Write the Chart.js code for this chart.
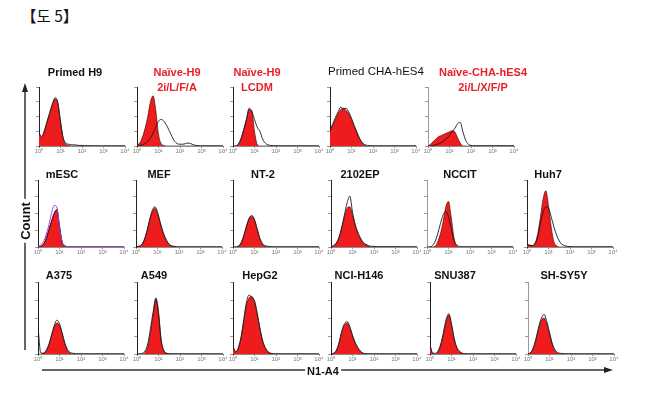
<!DOCTYPE html>
<html><head><meta charset="utf-8">
<script src="https://cdn.jsdelivr.net/npm/chart.js@4"></script>
<style>
html,body{margin:0;padding:0;background:#fff;}
#wrap{position:relative;width:645px;height:396px;overflow:hidden;background:#fff;}
canvas{position:absolute;}
.t{position:absolute;transform:translate(-50%,-50%);white-space:nowrap;font-family:"Liberation Sans",Arial,sans-serif;font-weight:bold;font-size:11px;color:#111;line-height:1;}
.r{color:#e8202a;}
</style></head><body><div id="wrap"></div>
<script>
// log10 fluorescence bins (decades)
const bins = [0,0.125,0.25,0.375,0.5,0.625,0.75,0.875,1,1.125,1.25,1.375,1.5,1.625,1.75,1.875,2,2.125,2.25,2.375,2.5,2.625,2.75,2.875,3,3.125,3.25,3.375,3.5,3.625,3.75,3.875,4];
const tickLabels = ['10\u2070','10\u00b9','10\u00b2','10\u00b3','10\u2074'];

// counts (% of panel height), red = filled histogram, black = outline histogram
const primedH9Red     = [20,15,25,40,55,70,80,72,40,12,3,1,0,0,0,0,0,0,0,0,0,0,0,0,0,0,0,0,0,0,0,0,0];
const primedH9Black   = [22,16,26,42,57,72,82,74,42,14,5,3,2,2,1.5,1,1,0.5,0.5,0.5,0.3,0.3,0.3,0.3,0.3,0.3,0.3,0.3,0.3,0.3,0.3,0.3,0.3];
const naive2iRed      = [2,5,15,30,50,75,85,60,20,4,1,0,0,0,0,0,0,0,0,0,0,0,0,0,0,0,0,0,0,0,0,0,0];
const naive2iBlack    = [0,1,2,4,8,14,22,32,42,45,42,35,26,16,8,4,3,3,4,5,4,2,1,0.5,0.3,0.3,0.3,0.3,0.3,0.3,0.3,0.3,0.3];
const naiveLcdmRed    = [0,0,3,12,28,45,62,60,25,3,0,0,0,0,0,0,0,0,0,0,0,0,0,0,0,0,0,0,0,0,0,0,0];
const naiveLcdmBlack  = [0,0,4,13,28,45,64,58,45,32,25,12,5,2,1,0.5,0.5,0.3,0.3,0.3,0.3,0.3,0.3,0.3,0.3,0.3,0.3,0.3,0.3,0.3,0.3,0.3,0.3];
const primedChaRed    = [25,35,45,55,62,64,60,55,45,33,22,12,5,1,0,0,0,0,0,0,0,0,0,0,0,0,0,0,0,0,0,0,0];
const primedChaBlack  = [27,37,48,58,66,63,64,57,47,35,24,13,6,2,1,0.5,0.3,0.3,0.3,0.3,0.3,0.3,0.3,0.3,0.3,0.3,0.3,0.3,0.3,0.3,0.3,0.3,0.3];
const naiveChaRed     = [0,3,8,12,16,18,20,22,24,26,24,14,5,0,0,0,0,0,0,0,0,0,0,0,0,0,0,0,0,0,0,0,0];
const naiveChaBlack   = [0,0,1,2,4,6,9,13,18,24,30,38,40,24,10,3,1,0.5,0.5,0.5,0.5,0.5,0.5,0.5,0.5,0.5,0.5,0.5,0.5,0.5,0.5,0.5,0.5];
const mescRed         = [0,1,4,12,25,38,50,55,30,6,1,0,0,0,0,0,0,0,0,0,0,0,0,0,0,0,0,0,0,0,0,0,0];
const mescBlack       = [1,1,4,12,25,38,50,56,32,7,2,0.5,0.3,0.3,0.3,0.3,0.3,0.3,0.3,0.3,0.3,0.3,0.3,0.3,0.3,0.3,0.3,0.3,0.3,0.3,0.3,0.3,0.3];
const mescPurple      = [0,3,8,18,32,50,62,60,28,8,2,0,0,0,0,0,0,0,0,0,0,0,0,0,0,0,0,0,0,0,0,0,0];
const mefRed          = [0,1,3,10,22,38,52,58,50,36,22,12,5,2,1,0,0,0,0,0,0,0,0,0,0,0,0,0,0,0,0,0,0];
const mefBlack        = [0,1,3,10,23,40,54,60,52,37,23,13,6,2,1,0.5,0.3,0.3,0.3,0.3,0.3,0.3,0.3,0.3,0.3,0.3,0.3,0.3,0.3,0.3,0.3,0.3,0.3];
const nt2Red          = [0,0,1,6,16,30,42,46,40,26,12,4,1,0,0,0,0,0,0,0,0,0,0,0,0,0,0,0,0,0,0,0,0];
const nt2Black        = [0,0,1,6,17,31,43,47,41,27,13,5,2,1,0.5,0.3,0.3,0.3,0.3,0.3,0.3,0.3,0.3,0.3,0.3,0.3,0.3,0.3,0.3,0.3,0.3,0.3,0.3];
const ep2102Red       = [0,2,6,14,28,45,58,60,48,32,20,12,6,3,1,0,0,0,0,0,0,0,0,0,0,0,0,0,0,0,0,0,0];
const ep2102Black     = [0,2,6,15,30,48,66,76,52,34,22,13,7,4,2,1,1,0.5,0.5,0.5,0.5,0.5,0.5,0.5,0.5,0.5,0.3,0.3,0.3,0.3,0.3,0.3,0.3];
const ncciteRed       = [0,0,0,1,8,20,38,60,68,45,15,2,0,0,0,0,0,0,0,0,0,0,0,0,0,0,0,0,0,0,0,0,0];
const ncciteBlack     = [0,0,2,8,20,35,48,53,45,28,10,3,1,0.3,0.3,0.3,0.3,0.3,0.3,0.3,0.3,0.3,0.3,0.3,0.3,0.3,0.3,0.3,0.3,0.3,0.3,0.3,0.3];
const huh7Red         = [4,3,2,6,20,45,72,84,62,30,8,2,0,0,0,0,0,0,0,0,0,0,0,0,0,0,0,0,0,0,0,0,0];
const huh7Black       = [3,2,2,5,15,35,52,60,58,45,30,18,9,4,2,1,0.5,0.3,0.3,0.3,0.3,0.3,0.3,0.3,0.3,0.3,0.3,0.3,0.3,0.3,0.3,0.3,0.3];
const a375Red         = [0,0,1,4,12,25,37,43,40,28,14,5,1,0,0,0,0,0,0,0,0,0,0,0,0,0,0,0,0,0,0,0,0];
const a375Black       = [38,2,1,5,13,26,39,47,42,29,15,6,2,1,0.5,0.3,0.3,0.3,0.3,0.3,0.3,0.3,0.3,0.3,0.3,0.3,0.3,0.3,0.3,0.3,0.3,0.3,0.3];
const a549Red         = [0,0,0,2,10,30,55,78,60,20,4,1,0,0,0,0,0,0,0,0,0,0,0,0,0,0,0,0,0,0,0,0,0];
const a549Black       = [0,0,1,4,14,35,58,76,55,18,5,1,0.5,0.3,0.3,0.3,0.3,0.3,0.3,0.3,0.3,0.3,0.3,0.3,0.3,0.3,0.3,0.3,0.3,0.3,0.3,0.3,0.3];
const hepg2Red        = [10,3,8,22,45,68,78,80,72,55,35,18,8,3,1,0,0,0,0,0,0,0,0,0,0,0,0,0,0,0,0,0,0];
const hepg2Black      = [10,3,9,24,48,72,82,78,74,57,36,19,9,3,1,0.5,0.3,0.3,0.3,0.3,0.3,0.3,0.3,0.3,0.3,0.3,0.3,0.3,0.3,0.3,0.3,0.3,0.3];
const nciRed          = [0,1,5,15,30,40,43,36,25,15,8,3,1,0,0,0,0,0,0,0,0,0,0,0,0,0,0,0,0,0,0,0,0];
const nciBlack        = [0,1,5,16,32,42,45,38,26,16,9,4,1,0.5,0.3,0.3,0.3,0.3,0.3,0.3,0.3,0.3,0.3,0.3,0.3,0.3,0.3,0.3,0.3,0.3,0.3,0.3,0.3];
const snu387Red       = [12,1,0,3,12,28,45,54,40,20,8,3,1,0,0,0,0,0,0,0,0,0,0,0,0,0,0,0,0,0,0,0,0];
const snu387Black     = [12,1,1,4,14,30,48,56,42,22,9,4,1,0.5,0.3,0.3,0.3,0.3,0.3,0.3,0.3,0.3,0.3,0.3,0.3,0.3,0.3,0.3,0.3,0.3,0.3,0.3,0.3];
const shsy5yRed       = [0,2,8,20,35,47,50,42,28,14,5,1,0,0,0,0,0,0,0,0,0,0,0,0,0,0,0,0,0,0,0,0,0];
const shsy5yBlack     = [0,2,9,22,38,50,55,45,30,15,6,2,1,0.5,0.3,0.3,0.3,0.3,0.3,0.3,0.3,0.3,0.3,0.3,0.3,0.3,0.3,0.3,0.3,0.3,0.3,0.3,0.3];

const RED = '#ee1c1c';
const PW = 86; // plot width (4 decades)
const rows = [{top:87,base:146},{top:180,base:247},{top:282,base:354}];

const panels = [
 {row:0,ax:39, red:primedH9Red, black:primedH9Black},
 {row:0,ax:137,red:naive2iRed, black:naive2iBlack},
 {row:0,ax:233,red:naiveLcdmRed, black:naiveLcdmBlack},
 {row:0,ax:330,red:primedChaRed, black:primedChaBlack},
 {row:0,ax:428,red:naiveChaRed, black:naiveChaBlack, dotted:true},
 {row:1,ax:38, red:mescRed, black:mescBlack, purple:mescPurple},
 {row:1,ax:136,red:mefRed, black:mefBlack},
 {row:1,ax:233,red:nt2Red, black:nt2Black},
 {row:1,ax:331,red:ep2102Red, black:ep2102Black},
 {row:1,ax:427,red:ncciteRed, black:ncciteBlack, dotted:true},
 {row:1,ax:527,red:huh7Red, black:huh7Black},
 {row:2,ax:38, red:a375Red, black:a375Black},
 {row:2,ax:137,red:a549Red, black:a549Black},
 {row:2,ax:233,red:hepg2Red, black:hepg2Black},
 {row:2,ax:331,red:nciRed, black:nciBlack},
 {row:2,ax:430,red:snu387Red, black:snu387Black},
 {row:2,ax:528,red:shsy5yRed, black:shsy5yBlack, dotted:true}
];

const titles = [
 {x:75, y:72, lines:['Primed H9']},
 {x:177,y:72, lines:['Naïve-H9','2i/L/F/A'], red:true},
 {x:257,y:72, lines:['Naïve-H9','LCDM'], red:true},
 {x:376,y:72, lines:['Primed CHA-hES4'], thin:true},
 {x:483,y:72, lines:['Naïve-CHA-hES4','2i/L/X/F/P'], red:true},
 {x:62, y:174,lines:['mESC']},
 {x:159,y:174,lines:['MEF']},
 {x:263,y:174,lines:['NT-2']},
 {x:360,y:174,lines:['2102EP']},
 {x:460,y:174,lines:['NCCIT']},
 {x:548,y:174,lines:['Huh7']},
 {x:59, y:275,lines:['A375']},
 {x:154,y:275,lines:['A549']},
 {x:260,y:275,lines:['HepG2']},
 {x:359,y:275,lines:['NCI-H146']},
 {x:455,y:275,lines:['SNU387']},
 {x:564,y:275,lines:['SH-SY5Y']}
];

const wrap = document.getElementById('wrap');

function ds(vals, color, width, fill){
  return {
    data: bins.map((b,i)=>({x:b,y:vals[i]})),
    borderColor: color, borderWidth: width,
    backgroundColor: fill ? RED : 'transparent',
    fill: fill ? 'origin' : false,
    pointRadius: 0, cubicInterpolationMode: 'monotone'
  };
}

panels.forEach(p=>{
  const r = rows[p.row];
  const c = document.createElement('canvas');
  const W = 6 + PW + 8, H = 2 + (r.base - r.top) + 10;
  c.width = W; c.height = H;
  c.style.left = (p.ax - 6) + 'px';
  c.style.top = (r.top - 2) + 'px';
  c.style.width = W + 'px'; c.style.height = H + 'px';
  wrap.appendChild(c);
  const sets = [];
  if (p.purple) sets.push(ds(p.purple, '#b23ad6', 1, false));
  sets.push(ds(p.black, '#1a1a1a', 0.9, false));
  sets.push(ds(p.red, '#330000', 0.6, true));
  new Chart(c, {
    type:'line',
    data:{datasets:sets},
    options:{
      responsive:false, animation:false, devicePixelRatio:1,
      layout:{padding:{top:2,right:8,left:0,bottom:0}},
      plugins:{legend:{display:false}, tooltip:{enabled:false}},
      scales:{
        x:{type:'linear', min:0, max:4,
           border:{display:true, color:'#8c8c8c', width:1},
           grid:{drawOnChartArea:false, tickLength:2, color:'#8c8c8c'},
           ticks:{stepSize:1, autoSkip:false, maxRotation:0, padding:0, color:'#7a7a7a',
                  font:{size:6, family:'Liberation Sans'},
                  callback:v=>tickLabels[Math.round(v)]},
           afterFit:s=>{s.height=10;}},
        y:{min:0, max:100,
           border:{display:true, color: p.dotted ? '#9a9a9a' : '#222', width:1, dash: p.dotted ? [1,3] : []},
           grid:{drawOnChartArea:false, tickLength:3, color:'#999'},
           ticks:{display:false, stepSize:25},
           afterFit:s=>{s.width=6;}}
      }
    }
  });
});

titles.forEach(t=>{
  t.lines.forEach((ln,i)=>{
    const d = document.createElement('div');
    d.className = 't' + (t.red ? ' r' : '');
    if (t.thin) { d.style.fontWeight='normal'; d.style.fontSize='11.5px'; }
    d.textContent = ln;
    d.style.left = t.x + 'px';
    d.style.top = (t.y + i*15) + 'px';
    wrap.appendChild(d);
  });
});

// header, axis arrows and axis titles
const hdr = document.createElement('div');
hdr.textContent = '【도 5】';
hdr.style.cssText = 'position:absolute;left:21px;top:8px;font-family:"Noto Sans CJK KR",sans-serif;font-size:15.5px;color:#111;line-height:1;';
wrap.appendChild(hdr);

const svgNS='http://www.w3.org/2000/svg';
const svg=document.createElementNS(svgNS,'svg');
svg.setAttribute('width','645');svg.setAttribute('height','396');
svg.style.cssText='position:absolute;left:0;top:0;';
svg.innerHTML =
 '<line x1="25" y1="350" x2="25" y2="90" stroke="#333" stroke-width="1.5"/>'+
 '<polygon points="25,83 22,92 28,92" fill="#222"/>'+
 '<line x1="42" y1="370" x2="606" y2="370" stroke="#333" stroke-width="1.5"/>'+
 '<polygon points="613,370 604,367 604,373" fill="#222"/>';
wrap.appendChild(svg);

const cnt=document.createElement('div');
cnt.className='t';
cnt.textContent='Count';
cnt.style.cssText+='font-size:13px;left:25px;top:221px;transform:translate(-50%,-50%) rotate(-90deg);background:#fff;padding:0 3px;';
wrap.appendChild(cnt);

const nx=document.createElement('div');
nx.className='t';
nx.textContent='N1-A4';
nx.style.cssText+='left:323px;top:371px;background:#fff;padding:0 2px;';
wrap.appendChild(nx);
</script></body></html>
